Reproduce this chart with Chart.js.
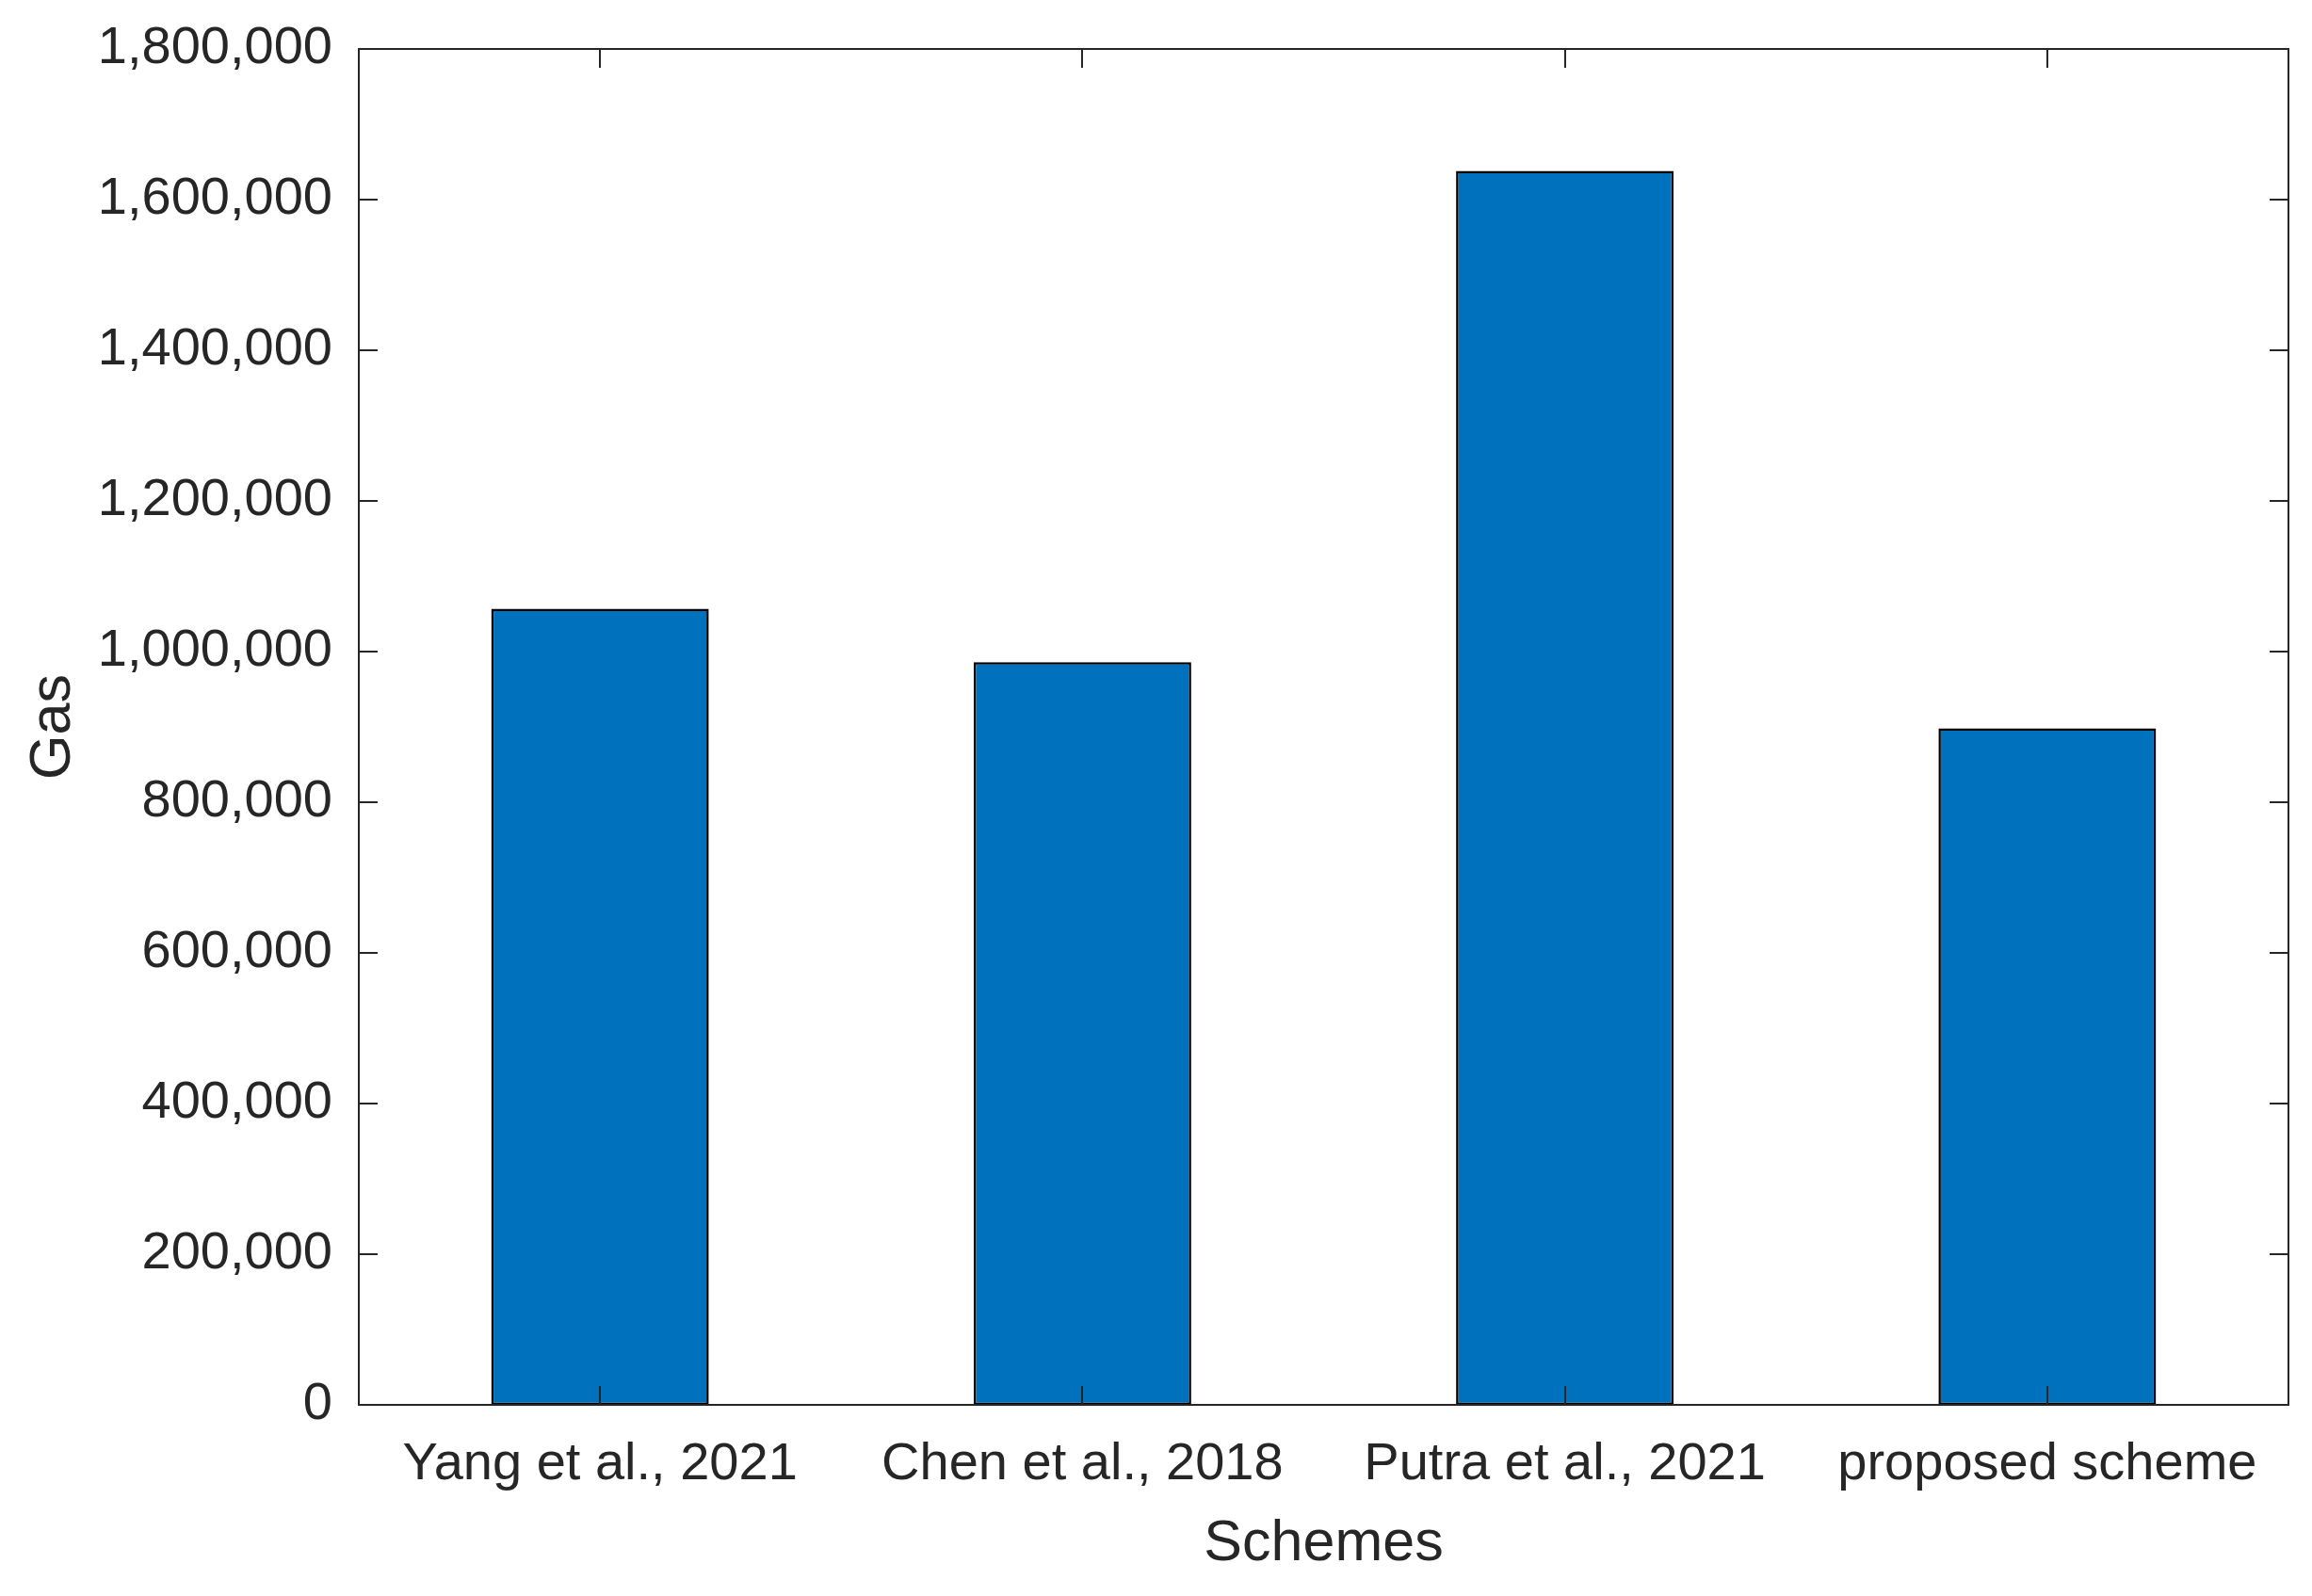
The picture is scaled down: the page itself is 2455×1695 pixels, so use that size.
<!DOCTYPE html>
<html>
<head>
<meta charset="utf-8">
<script src="https://cdn.jsdelivr.net/npm/chart.js@4/dist/chart.umd.min.js"></script>
<style>
  html, body { margin: 0; padding: 0; background: #ffffff; }
  #wrap { width: 2455px; height: 1695px; }
</style>
</head>
<body>
<div id="wrap"><canvas id="c" width="2455" height="1695"></canvas></div>
<script>
const categories = ["Yang et al., 2021", "Chen et al., 2018", "Putra et al., 2021", "proposed scheme"];
const gasValues = [1057000, 986000, 1638000, 898000];
const yTickValues = [0, 200000, 400000, 600000, 800000, 1000000, 1200000, 1400000, 1600000, 1800000];
const xTitle = "Schemes";
const yTitle = "Gas";

const FONT = "'Liberation Sans', Arial, Helvetica, sans-serif";
const AXIS_COLOR = "#262626";

const framePlugin = {
  id: "matlabFrame",
  afterDatasetsDraw(chart) {
    const ctx = chart.ctx;
    const a = chart.chartArea;
    const xs = chart.scales.x, ys = chart.scales.y;
    const tl = 20;
    ctx.save();
    ctx.strokeStyle = AXIS_COLOR;
    ctx.lineWidth = 2;
    ctx.beginPath();
    ctx.rect(a.left, a.top, a.right - a.left, a.bottom - a.top);
    ctx.stroke();
    ctx.beginPath();
    yTickValues.forEach(v => {
      const py = Math.round(ys.getPixelForValue(v));
      ctx.moveTo(a.left, py); ctx.lineTo(a.left + tl, py);
      ctx.moveTo(a.right, py); ctx.lineTo(a.right - tl, py);
    });
    categories.forEach((c, i) => {
      const px = Math.round(xs.getPixelForValue(i));
      ctx.moveTo(px, a.bottom); ctx.lineTo(px, a.bottom - tl);
      ctx.moveTo(px, a.top); ctx.lineTo(px, a.top + tl);
    });
    ctx.stroke();
    ctx.restore();
  }
};

new Chart(document.getElementById("c"), {
  type: "bar",
  data: {
    labels: categories,
    datasets: [{
      label: yTitle,
      data: gasValues,
      backgroundColor: "#0072BD",
      borderColor: "#000000",
      borderWidth: 2.5,
      borderSkipped: false,
      barPercentage: 0.451,
      categoryPercentage: 1.0
    }]
  },
  options: {
    responsive: false,
    devicePixelRatio: 1,
    animation: false,
    layout: { padding: { top: 52, right: 25, left: 0, bottom: 0 } },
    plugins: { legend: { display: false }, tooltip: { enabled: false } },
    scales: {
      x: {
        grid: { display: false, drawTicks: false },
        border: { display: false },
        ticks: { color: AXIS_COLOR, font: { family: FONT, size: 56 }, padding: 30, maxRotation: 0, autoSkip: false },
        title: { display: true, text: xTitle, color: AXIS_COLOR, font: { family: FONT, size: 61 }, padding: { top: 0, bottom: 18 } },
        afterFit(scale) { scale.height = 203; scale.paddingLeft = 0; scale.paddingRight = 0; }
      },
      y: {
        min: 0,
        max: 1800000,
        grid: { display: false, drawTicks: false },
        border: { display: false },
        afterBuildTicks(scale) { scale.ticks = yTickValues.map(v => ({ value: v })); },
        ticks: {
          color: AXIS_COLOR,
          font: { family: FONT, size: 56 },
          padding: 28,
          callback: v => Number(v).toLocaleString("en-US")
        },
        title: { display: true, text: yTitle, color: AXIS_COLOR, font: { family: FONT, size: 61 }, padding: { top: 21, bottom: 0 } },
        afterFit(scale) { scale.width = 381; scale.paddingTop = 0; scale.paddingBottom = 0; }
      }
    }
  },
  plugins: [framePlugin]
});
</script>
</body>
</html>
